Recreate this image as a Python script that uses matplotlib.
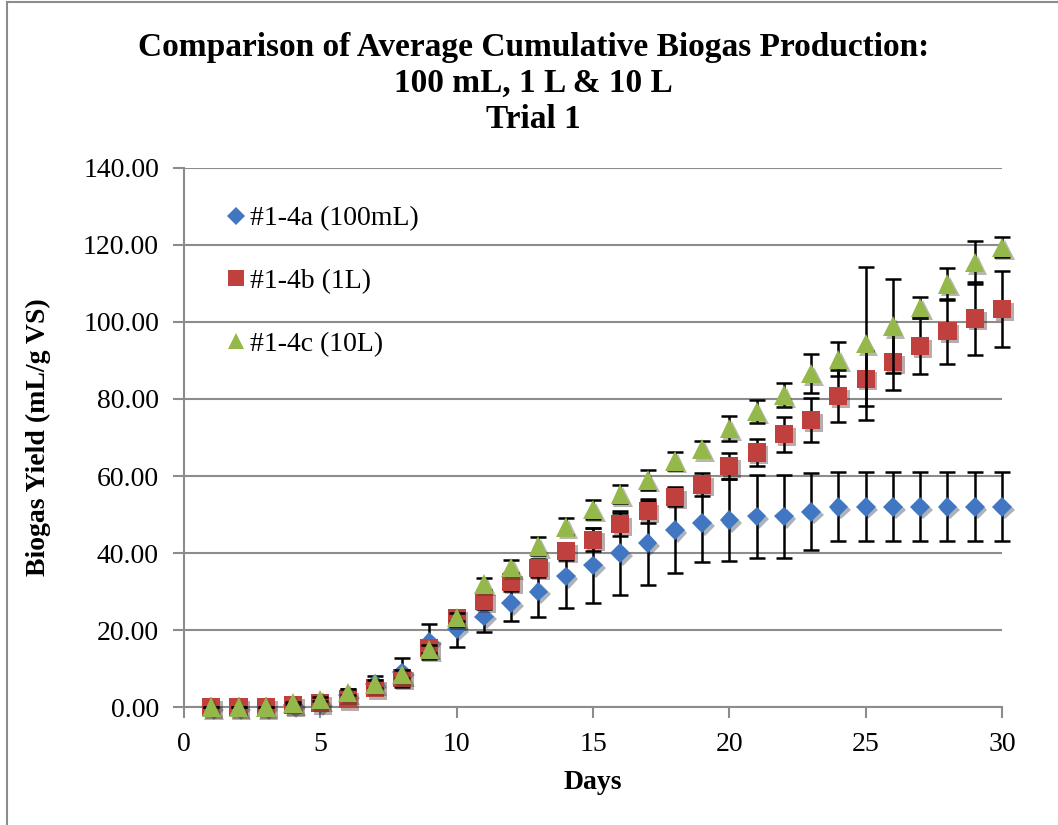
import numpy as np
import matplotlib
matplotlib.use('Agg')
from matplotlib import pyplot as plt
import matplotlib.patheffects as pe
from matplotlib.patches import Rectangle
from matplotlib.lines import Line2D

# data
days = list(range(1, 31))

vol_100ml = [0, 0, 0, 0.5, 1.0, 3.0, 6.0, 9.0, 17.0, 20.3,
             23.5, 27.0, 30.0, 33.9, 36.8, 40.0, 42.6, 46.0, 47.8, 48.5,
             49.5, 49.5, 50.7, 52.0, 52.0, 52.0, 52.0, 52.0, 52.0, 52.0]
err_100ml = [0, 0, 0, 0.3, 1.5, 1.8, 2.0, 3.7, 4.5, 4.7,
             3.9, 4.7, 6.7, 8.2, 9.8, 11.0, 11.0, 11.2, 10.2, 10.7,
             10.7, 10.7, 10.0, 9.0, 9.0, 9.0, 9.0, 9.0, 9.0, 9.0]

vol_1l = [0, 0, 0, 0.5, 1.0, 2.0, 5.0, 7.5, 15.3, 23.1,
          27.5, 32.4, 36.1, 40.4, 43.5, 47.5, 50.9, 54.6, 57.8, 62.6,
          66.1, 70.8, 74.5, 80.8, 85.3, 89.6, 93.8, 97.6, 100.9, 103.3]
err_1l = [0, 0, 0, 0.3, 0.5, 0.8, 1.0, 1.5, 1.5, 2.0,
          2.0, 2.3, 2.3, 2.2, 3.0, 3.0, 3.0, 2.4, 3.0, 3.4,
          3.6, 4.5, 5.7, 6.8, 7.1, 7.3, 7.2, 8.4, 9.4, 9.9]

vol_10l = [0, 0, 0, 1.0, 2.0, 3.8, 6.0, 8.5, 15.0, 23.3,
           32.0, 36.3, 41.8, 46.8, 51.3, 55.3, 59.0, 63.9, 67.0, 72.4,
           76.7, 81.0, 86.6, 90.3, 94.4, 98.9, 103.8, 109.9, 115.4, 119.4]
err_10l = [0, 0, 0, 0.3, 0.5, 0.8, 1.0, 1.0, 1.0, 1.0,
           1.5, 2.0, 2.4, 2.2, 2.4, 2.4, 2.6, 2.3, 2.0, 3.2,
           3.0, 3.2, 5.0, 4.4, 19.8, 12.2, 2.8, 4.2, 5.6, 2.6]

labels = ['#1-4a (100mL)', '#1-4b (1L)', '#1-4c (10L)']
colors = ['#4177C2', '#C0403D', '#95B84A']
markers = ['D', 's', '^']
sizes = [10, 13, 14]

plt.rcParams['font.family'] = ['Liberation Serif', 'DejaVu Serif']

fig = plt.figure(figsize=(10.58, 8.25), dpi=100)
ax = fig.add_axes([0.1739, 0.1430, 0.7732, 0.6534])

shadow = [pe.SimplePatchShadow(offset=(2, -2), alpha=0.35), pe.Normal()]
series = [(vol_100ml, err_100ml), (vol_1l, err_1l), (vol_10l, err_10l)]
handles = []
for i, (vals, errs) in enumerate(series):
    eb = ax.errorbar(days, vals, yerr=errs, fmt=markers[i], color=colors[i],
                     markersize=sizes[i], ecolor='black',
                     elinewidth=1.8, capsize=6, capthick=1.8, zorder=3 + i)
    eb[0].set_markeredgewidth(0)
    eb[0].set_path_effects(shadow)
    eb[0].set_clip_on(False)
    for c in eb[1]:
        c.set_clip_on(False)
    for c in eb[2]:
        c.set_clip_on(False)
    handles.append(Line2D([], [], linestyle='none', marker=markers[i],
                          color=colors[i], markeredgewidth=0,
                          markersize=[9, 11, 12][i]))

ax.set_xlim(0, 30)
ax.set_ylim(0, 140)
ax.set_xticks(range(0, 31, 5))
ax.set_yticks(range(0, 141, 20))
ax.set_yticklabels(['%.2f' % v for v in range(0, 141, 20)])
ax.grid(axis='y', color='#8c8c8c', linewidth=1.5)
ax.set_axisbelow(True)
for s in ['top', 'right']:
    ax.spines[s].set_visible(False)
for s in ['left', 'bottom']:
    ax.spines[s].set_color('#8c8c8c')
    ax.spines[s].set_linewidth(1.5)
ax.tick_params(axis='both', direction='out', length=8, width=1.5,
               color='#8c8c8c', labelsize=20, pad=10)

ax.set_xlabel('Days', fontsize=20, fontweight='bold', labelpad=9)
ax.set_ylabel('Biogas Yield (mL/g VS)', fontsize=20, fontweight='bold', labelpad=23)

ax.legend(handles, labels, loc='upper left', bbox_to_anchor=(0.040, 0.95),
          frameon=False, fontsize=20, labelspacing=1.34, handletextpad=0.2,
          handlelength=0.6, borderaxespad=0)

fig.text(0.504, 0.899, 'Comparison of Average Cumulative Biogas Production:\n'
         '100 mL, 1 L & 10 L\nTrial 1', ha='center', va='center',
         fontsize=24, fontweight='bold', linespacing=1.22)

fig.patches.append(Rectangle((0.007, -0.1), 1.1, 1.097, transform=fig.transFigure,
                             fill=False, edgecolor='#8c8c8c', linewidth=1.5))

fig.savefig('out.png', dpi=100)
